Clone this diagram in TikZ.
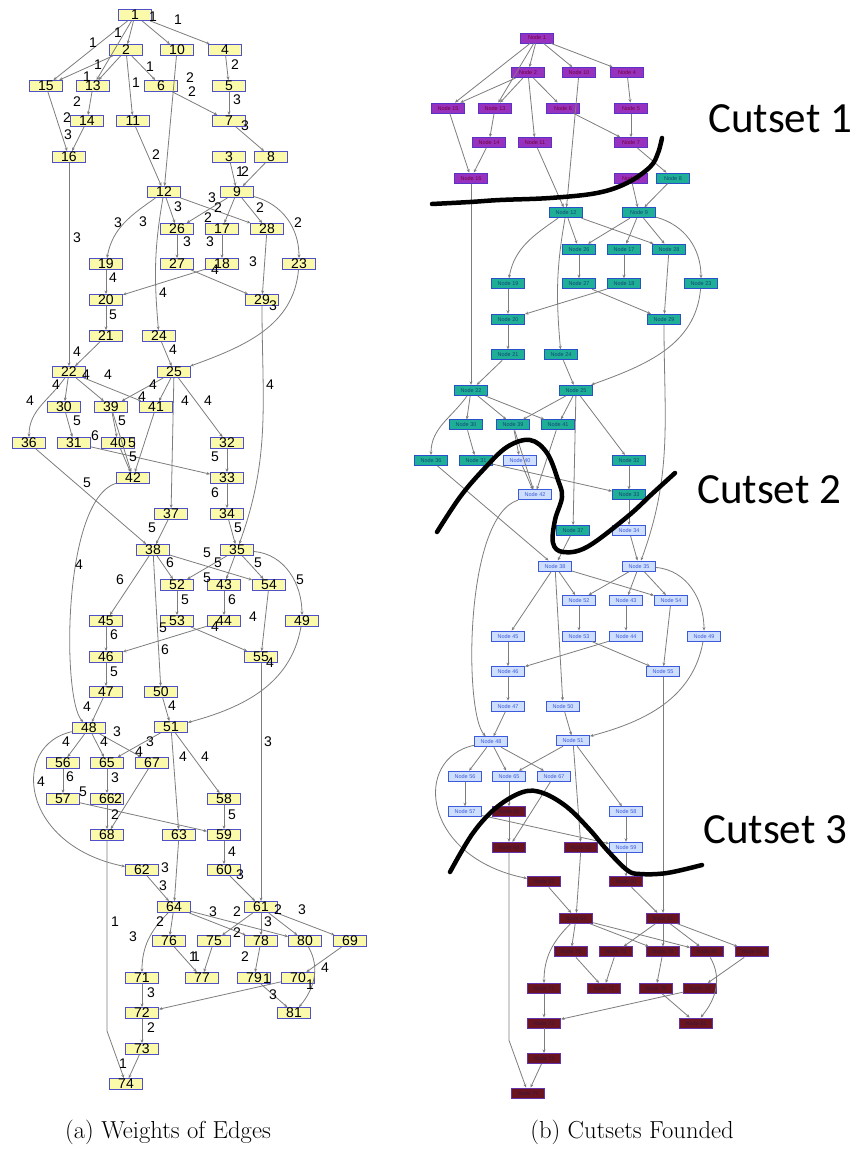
\documentclass[tikz,border=0pt]{standalone}
\usepackage{fontspec}
\newfontfamily\arialfont{Liberation Sans}
\newfontfamily\calibrifont{Carlito}
\usetikzlibrary{arrows.meta}

\definecolor{edgegray}{RGB}{125,125,125}
\definecolor{boxline}{RGB}{80,80,200}
\definecolor{boxfill}{RGB}{250,250,170}
\definecolor{purplefill}{RGB}{150,50,190}
\definecolor{purpleline}{RGB}{90,50,200}
\definecolor{purpletext}{RGB}{120,0,60}
\definecolor{tealfill}{RGB}{30,175,150}
\definecolor{tealline}{RGB}{40,80,200}
\definecolor{tealtext}{RGB}{20,70,120}
\definecolor{lightfill}{RGB}{205,222,255}
\definecolor{lightline}{RGB}{60,90,220}
\definecolor{lighttext}{RGB}{60,90,220}
\definecolor{maroonfill}{RGB}{105,20,30}
\definecolor{maroonline}{RGB}{100,50,170}
\definecolor{maroontext}{RGB}{60,20,60}

\tikzset{
  edge/.style={draw=edgegray, line width=0.8pt, -{Stealth[length=3.5pt,width=3pt]}},
  wbox/.style={draw=boxline, fill=boxfill, line width=0.9pt, minimum width=33pt,
    minimum height=11pt, inner sep=0pt, font=\arialfont\fontsize{14}{14}\selectfont},
  wt/.style={inner sep=0pt, font=\arialfont\fontsize{14}{14}\selectfont},
  cbox/.style={draw=#1line, fill=#1fill, text=#1text, line width=1pt, minimum width=33pt,
    minimum height=10pt, inner sep=0pt, font=\arialfont\fontsize{5.5}{5.5}\selectfont},
  cut/.style={line width=4.5pt, line cap=round, line join=round},
  cutlabel/.style={anchor=base west, inner sep=0pt, font=\calibrifont\fontsize{43}{43}\selectfont},
  caption/.style={anchor=base, inner sep=0pt, font=\fontsize{24.6}{28}\selectfont},
}

% node / x / y / group
\def\graphnodes{1/135/15/purple, 2/126/50/purple, 10/177/50/purple, 4/225/50/purple,
  15/46/86/purple, 13/93/86/purple, 6/161/86/purple, 5/229/86/purple,
  14/87/121/purple, 11/133/121/purple, 7/229/121/purple,
  16/69/157/purple, 3/229/157/purple, 8/271/157/teal,
  12/164/192/teal, 9/237/192/teal,
  26/177/229/teal, 17/222/229/teal, 28/267/229/teal,
  19/106/264/teal, 27/177/264/teal, 18/222/264/teal, 23/299/264/teal,
  20/106/300/teal, 29/262/300/teal, 21/106/336/teal, 24/159/336/teal,
  22/69/372/teal, 25/174/372/teal,
  30/64/407/teal, 39/111/407/teal, 41/156/407/teal,
  36/29/443/teal, 31/74/443/teal, 40/118/443/light, 32/227/443/teal,
  42/133/478/light, 33/227/478/teal, 37/171/514/teal, 34/227/514/light,
  38/153/550/light, 35/237/550/light,
  52/177/585/light, 43/224/585/light, 54/269/585/light,
  45/106/621/light, 53/177/621/light, 44/224/621/light, 49/302/621/light,
  46/106/657/light, 55/261/657/light, 47/106/692/light, 50/161/692/light,
  48/89/728/light, 51/171/727/light,
  56/63/763/light, 65/107/763/light, 67/152/763/light,
  57/63/799/light, 66/107/799/maroon, 58/224/799/light,
  68/107/835/maroon, 63/179/835/maroon, 59/224/835/light,
  62/142/870/maroon, 60/224/870/maroon,
  64/174/907/maroon, 61/261/907/maroon,
  76/169/941/maroon, 75/214/941/maroon, 78/261/941/maroon, 80/305/941/maroon, 69/350/941/maroon,
  71/142/978/maroon, 77/202/978/maroon, 79/254/978/maroon, 70/298/978/maroon,
  72/142/1013/maroon, 81/294/1013/maroon, 73/142/1049/maroon, 74/126/1084/maroon}

\def\edgelist{1/2, 1/10, 1/4, 1/15, 1/13, 2/15, 2/13, 2/6, 2/11, 10/12, 11/12, 6/7,
  4/5, 5/7, 7/8, 3/9, 8/9, 15/16, 13/14, 14/16, 16/22, 12/26, 12/28, 9/26, 9/17,
  9/28, 26/27, 17/18, 28/29, 18/20, 27/29, 19/20, 20/21, 21/22, 24/25, 22/30,
  22/39, 22/41, 25/39, 25/41, 25/37, 25/32, 30/31, 39/40, 39/42, 41/42, 40/42,
  31/33, 32/33, 33/34, 36/38, 37/38, 34/35, 38/45, 38/50, 38/52, 38/54, 35/52,
  35/43, 35/54, 52/53, 43/44, 45/46, 46/47, 53/55, 44/46, 54/55, 55/61, 47/48,
  50/51, 48/56, 48/65, 48/67, 51/65, 51/63, 51/58, 67/68, 56/57, 57/59, 65/66,
  66/68, 58/59, 59/60, 63/64, 62/64, 60/61, 64/76, 64/78, 64/80, 61/75, 61/78,
  61/80, 61/69, 76/77, 75/77, 78/79, 69/70, 70/72, 79/81, 71/72, 72/73, 73/74}

% x / y / weight
\def\weights{153/17/1, 178/20/1, 93/43/1, 118/33/1, 98/65/1, 87/77/1, 150/67/1,
  136/83/1, 190/78/2, 192/92/2, 235/65/2, 237/100/3, 245/126/3, 77/102/2, 67/118/2,
  68/135/3, 156/155/2, 240/172/1, 245/172/2,
  77/238/3, 118/223/3, 143/222/3, 178/207/3, 212/198/3, 218/208/2, 208/218/2,
  260/208/2, 298/223/2, 187/242/3, 210/242/3, 253/262/3, 215/270/4, 113/278/4,
  163/293/4, 273/306/3, 113/315/5, 77/352/4, 173/350/4,
  86/375/4, 108/375/4, 56/385/4, 30/401/4, 153/385/4, 142/397/4, 185/401/4,
  208/401/4, 270/385/4, 77/421/5, 122/421/5, 95/436/6, 132/443/5, 133/457/5,
  215/457/5, 87/483/5, 215/493/6, 152/528/5, 238/528/5,
  79/565/4, 120/580/6, 170/563/6, 207/553/5, 218/563/5, 207/578/5, 258/563/5,
  300/580/5, 185/600/5, 232/600/6, 114/635/6, 163/628/5, 215/627/4, 253/617/4,
  165/650/6, 114/672/5, 270/663/4,
  87/707/4, 172/706/4, 117/732/3, 66/742/4, 104/742/4, 150/742/3, 139/752/4,
  183/757/4, 205/757/4, 70/777/6, 115/778/3, 41/782/4, 268/742/3, 83/792/5,
  118/799/2, 115/815/2, 232/815/5, 232/852/4,
  165/868/3, 240/875/3, 163/886/3, 115/922/1, 160/922/2, 133/937/3, 213/912/3,
  237/912/2, 278/910/2, 302/910/3, 268/922/3, 237/933/2, 193/957/1, 196/957/1,
  245/957/2, 325/968/4, 267/979/1, 310/985/1, 273/995/3, 151/993/3, 151/1028/2,
  123/1064/1}

% all edges of the graph, #1 = node prefix
\newcommand\graphedges[1]{%
  \foreach \s/\t in \edgelist {\draw[edge] (#1\s) -- (#1\t);}
  \draw[edge] (#112) to[out=215,in=80] (#119);
  \draw[edge] (#112) to[out=260,in=95] (#124);
  \draw[edge] (#19) to[out=-15,in=90] (#123);
  \draw[edge] (#123) to[out=265,in=20] (#125);
  \draw[edge] (#129) to[out=270,in=70] (#135);
  \draw[edge] (#122) to[out=235,in=90] (#136);
  \draw[edge] (#142) .. controls (62,500) and (62,700) .. (#148);
  \draw[edge] (#135) to[out=-5,in=90] (#149);
  \draw[edge] (#149) to[out=260,in=15] (#151);
  \draw[edge] (#148) .. controls (10,745) and (20,845) .. (#162);
  \draw[edge] (#164) to[out=225,in=90] (#171);
  \draw[edge] (#180) to[out=-60,in=50] (#181);
  \draw[edge] (#168.south) -- ++(0,190) -- (#174);
}

\begin{document}
\begin{tikzpicture}[x=1pt,y=-1pt]
  \fill[white] (0,0) rectangle (858,1150);
  \useasboundingbox (0,0) rectangle (858,1150);

  % (a) graph with edge weights
  \foreach \n/\x/\y/\g in \graphnodes
    \node[wbox] (a\n) at (\x,\y) {\n};
  \graphedges{a}
  \foreach \x/\y/\w [count=\i] in \weights
    \node[wt] (w\i) at (\x,\y) {\w};

  % (b) same graph, coloured by cutset
  \begin{scope}[shift={(402,23.2)},yscale=0.987]
    \foreach \n/\x/\y/\g in \graphnodes
      \node[cbox/.expanded=\g] (b\n) at (\x,\y) {Node \n};
    \graphedges{b}
  \end{scope}

  % hand drawn cuts
  \draw[cut] plot[smooth,tension=0.6] coordinates {(432,204) (470,202) (500,200)
    (550,198) (597,193) (627,183) (650,167) (658,153) (662,138)};
  \draw[cut] plot[smooth,tension=0.6] coordinates {(437,532) (460,497) (483,470)
    (507,447) (530,440) (547,453) (558,480) (562,497) (555,520) (553,543)
    (563,552) (587,547) (627,517) (653,493) (675,473)};
  \draw[cut] plot[smooth,tension=0.6] coordinates {(450,872) (473,833) (497,807)
    (523,792) (543,793) (567,807) (590,830) (607,850) (627,870) (640,874)
    (667,873) (702,865)};
  \node[cutlabel] (cut1) at (708,133) {Cutset 1};
  \node[cutlabel] (cut2) at (697,503) {Cutset 2};
  \node[cutlabel] (cut3) at (703,843) {Cutset 3};

  \node[caption] (capa) at (168,1138) {(a) Weights of Edges};
  \node[caption] (capb) at (632,1138) {(b) Cutsets Founded};
\end{tikzpicture}
\end{document}
